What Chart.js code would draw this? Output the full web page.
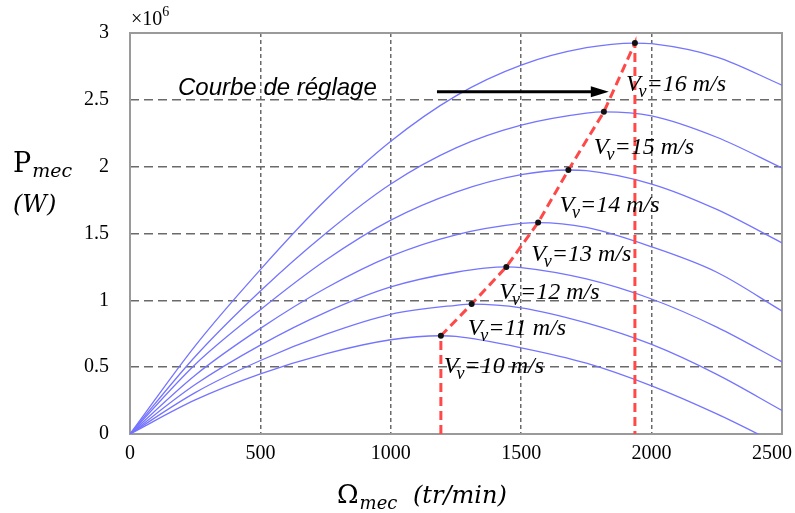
<!DOCTYPE html>
<html>
<head>
<meta charset="utf-8">
<script src="https://cdn.jsdelivr.net/npm/chart.js@4.4.0/dist/chart.umd.min.js"></script>
<style>
    html, body { margin: 0; padding: 0; background: #fff; }
</style>
</head>
<body>
<canvas id="powerChart" width="795" height="513"></canvas>
<script>
// Rotor speed grid (tr/min) and mechanical power per wind speed (x10^6 W)
const omega = [0, 250, 500, 750, 1000, 1250, 1500, 1750, 2000, 2250, 2500];
const windSpeeds = [10, 11, 12, 13, 14, 15, 16];
const p10 = [0, 0.255, 0.45, 0.60, 0.705, 0.730, 0.645, 0.53, 0.36, 0.15, -0.09];
const p11 = [0, 0.31, 0.55, 0.745, 0.895, 0.963, 0.944, 0.831, 0.67, 0.446, 0.176];
const p12 = [0, 0.37, 0.665, 0.91, 1.10, 1.21, 1.245, 1.16, 1.01, 0.80, 0.54];
const p13 = [0, 0.44, 0.79, 1.09, 1.33, 1.49, 1.575, 1.545, 1.40, 1.21, 0.92];
const p14 = [0, 0.52, 0.93, 1.30, 1.60, 1.81, 1.94, 1.97, 1.87, 1.68, 1.43];
const p15 = [0, 0.58, 1.07, 1.50, 1.87, 2.14, 2.31, 2.40, 2.38, 2.22, 1.99];
const p16 = [0, 0.66, 1.23, 1.75, 2.19, 2.53, 2.76, 2.89, 2.92, 2.82, 2.61];
const powerCurves = [p10, p11, p12, p13, p14, p15, p16];

// Optimum points (courbe de reglage)
const peakOmega = [1192, 1310, 1443, 1565, 1681, 1817, 1936];
const peakPower = [0.735, 0.972, 1.25, 1.582, 1.975, 2.41, 2.925];

const xTicks = [0, 500, 1000, 1500, 2000, 2500];
const yTicks = [0, 0.5, 1, 1.5, 2, 2.5, 3];

// Build the curve points: grid values plus the optimum point
function curvePoints(values, i) {
    const pts = omega.map((w, k) => ({ x: w, y: values[k] }));
    pts.push({ x: peakOmega[i], y: peakPower[i] });
    return pts.sort((a, b) => a.x - b.x);
}

const reglagePoints = [{ x: peakOmega[0], y: 0 }]
    .concat(peakOmega.map((w, i) => ({ x: w, y: peakPower[i] })))
    .concat([{ x: peakOmega[peakOmega.length - 1], y: 0 }]);

const datasets = [{
    data: reglagePoints,
    borderColor: '#ff4848',
    borderWidth: 3,
    borderDash: [9, 5],
    tension: 0,
    pointRadius: reglagePoints.map((p, i) => (i === 0 || i === reglagePoints.length - 1) ? 0 : 3),
    pointBackgroundColor: '#111',
    pointBorderWidth: 0,
    order: 0
}];
powerCurves.forEach((values, i) => {
    datasets.push({
        data: curvePoints(values, i),
        borderColor: '#7474ff',
        borderWidth: 1.3,
        pointRadius: 0,
        cubicInterpolationMode: 'monotone',
        order: 1
    });
});

// Frame, annotations and axis titles
const overlayPlugin = {
    id: 'overlay',
    beforeDatasetsDraw(chart) {
        const { ctx, chartArea: a } = chart;
        ctx.save();
        ctx.strokeStyle = '#9a9a9a';
        ctx.lineWidth = 2;
        ctx.strokeRect(a.left, a.top, a.right - a.left, a.bottom - a.top);
        ctx.restore();
    },
    afterDatasetsDraw(chart) {
        const { ctx, chartArea: a, scales: { x, y } } = chart;
        ctx.save();
        ctx.fillStyle = '#000';
        ctx.textBaseline = 'alphabetic';
        ctx.textAlign = 'left';

        // x tick labels (last one kept inside the canvas)
        ctx.font = '20px "Liberation Serif"';
        xTicks.forEach(v => {
            const label = String(v);
            const w = ctx.measureText(label).width;
            const left = Math.min(x.getPixelForValue(v) - w / 2, chart.width - 3 - w);
            ctx.fillText(label, left, a.bottom + 25);
        });

        // x10^6 multiplier
        ctx.font = '20px "Liberation Serif"';
        ctx.fillText('\u00d710', a.left + 1, a.top - 8);
        const mw = ctx.measureText('\u00d710').width;
        ctx.font = '14px "Liberation Serif"';
        ctx.fillText('6', a.left + 1 + mw, a.top - 17);

        // wind speed labels next to the optimum points
        const labelNudge = [[3, 37], [-4, 31], [-7, 32], [-7, 38], [-9, 42], [-10, 42], [-9, 48]];
        windSpeeds.forEach((v, i) => {
            const px = x.getPixelForValue(peakOmega[i]) + labelNudge[i][0];
            const py = y.getPixelForValue(peakPower[i]) + labelNudge[i][1];
            ctx.font = 'italic 24px "Liberation Serif"';
            ctx.fillText('V', px, py);
            const w1 = ctx.measureText('V').width;
            ctx.font = 'italic 18px "Liberation Serif"';
            ctx.fillText('v', px + w1 - 2, py + 6);
            const w2 = ctx.measureText('v').width;
            ctx.font = 'italic 24px "Liberation Serif"';
            ctx.fillText('=' + v + ' m/s', px + w1 + w2 - 2, py);
        });

        // "Courbe de réglage" and its arrow
        ctx.font = 'italic 24px "Liberation Sans"';
        ctx.fillText('Courbe de réglage', 178, 95);
        const ay = y.getPixelForValue(2.56);
        const ax0 = x.getPixelForValue(1177);
        const ax1 = x.getPixelForValue(1836);
        ctx.strokeStyle = '#000';
        ctx.lineWidth = 3;
        ctx.beginPath();
        ctx.moveTo(ax0, ay);
        ctx.lineTo(ax1 - 16, ay);
        ctx.stroke();
        ctx.beginPath();
        ctx.moveTo(ax1, ay);
        ctx.lineTo(ax1 - 18, ay - 5.5);
        ctx.lineTo(ax1 - 18, ay + 5.5);
        ctx.closePath();
        ctx.fill();

        // y axis title
        ctx.font = '27px "DejaVu Serif"';
        ctx.fillText('P', 13, 172);
        const pw = ctx.measureText('P').width;
        ctx.font = 'italic 19px "DejaVu Serif"';
        ctx.fillText('mec', 13 + pw + 1, 177);
        ctx.font = 'italic 24px "DejaVu Serif"';
        ctx.fillText('(W)', 13, 212);

        // x axis title
        ctx.font = '26px "DejaVu Serif"';
        ctx.fillText('\u03a9', 337, 503);
        const ow = ctx.measureText('\u03a9').width;
        ctx.font = 'italic 18px "DejaVu Serif"';
        ctx.fillText('mec', 337 + ow + 1, 509);
        ctx.font = 'italic 24px "DejaVu Serif"';
        ctx.fillText('(tr/min)', 413, 503);
        ctx.restore();
    }
};

new Chart(document.getElementById('powerChart'), {
    type: 'line',
    data: { datasets },
    plugins: [overlayPlugin],
    options: {
        responsive: false,
        animation: false,
        layout: { padding: { top: 33, right: 13, left: 0, bottom: 0 } },
        plugins: {
            legend: { display: false },
            tooltip: { enabled: false }
        },
        scales: {
            x: {
                type: 'linear',
                min: 0,
                max: 2500,
                afterBuildTicks: s => { s.ticks = xTicks.map(v => ({ value: v })); },
                afterFit: s => { s.height = 79; s.paddingLeft = 0; s.paddingRight = 0; },
                ticks: { display: false },
                grid: {
                    color: '#6a6a6a',
                    lineWidth: 1.5,
                    drawTicks: false
                },
                border: { display: false, dash: [4, 3] }
            },
            y: {
                type: 'linear',
                min: 0,
                max: 3,
                afterBuildTicks: s => { s.ticks = yTicks.map(v => ({ value: v })); },
                afterFit: s => { s.width = 130; s.paddingTop = 0; s.paddingBottom = 0; },
                ticks: {
                    padding: 21,
                    color: '#000',
                    font: { family: 'Liberation Serif', size: 20 },
                    callback: v => String(v)
                },
                grid: {
                    color: '#6a6a6a',
                    lineWidth: 1.5,
                    drawTicks: false
                },
                border: { display: false, dash: [9, 5] }
            }
        }
    }
});
</script>
</body>
</html>
